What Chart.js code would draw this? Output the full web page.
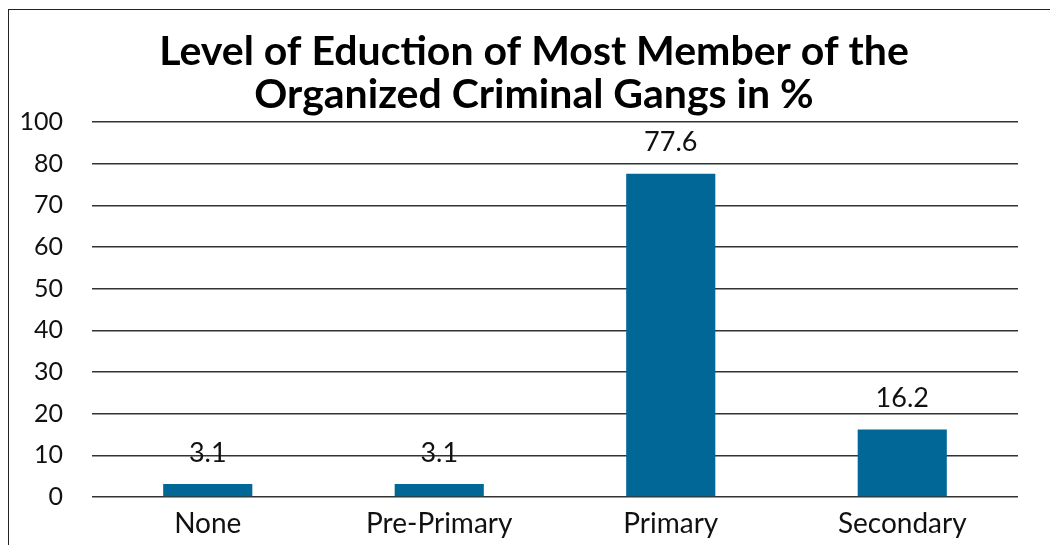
<!DOCTYPE html>
<html>
<head>
<meta charset="utf-8">
<script src="https://cdn.jsdelivr.net/npm/chart.js@4"></script>
<style>
  html, body { margin: 0; padding: 0; background: #fff; }
  #wrap { position: relative; width: 1050px; height: 545px; overflow: hidden; }
  #frame { position: absolute; left: 8px; top: 9px; right: -10px; bottom: -10px;
           border-left: 1.5px solid #222; border-top: 1.5px solid #222; }
  canvas { position: absolute; left: 0; top: 0; }
</style>
</head>
<body>
<div id="wrap">
  <div id="frame"></div>
  <canvas id="chart" width="1050" height="545"></canvas>
</div>
<script>
const categories = ['None', 'Pre-Primary', 'Primary', 'Secondary'];
const shares = [3.1, 3.1, 77.6, 16.2];
// the original axis jumps from 80 straight to "100" on the top line
const yTickLabels = ['0', '10', '20', '30', '40', '50', '60', '70', '80', '100'];

const FONT = 'Lato, "Open Sans", sans-serif';
const BAR_COLOR = '#006796';

// value labels sitting above each bar
const barValues = {
  id: 'barValues',
  afterDatasetsDraw(chart) {
    const ctx = chart.ctx;
    const meta = chart.getDatasetMeta(0);
    ctx.save();
    ctx.font = '27px ' + FONT;
    ctx.fillStyle = '#111';
    ctx.textAlign = 'center';
    ctx.textBaseline = 'middle';
    meta.data.forEach((bar, i) => {
      ctx.fillText(String(shares[i]), bar.x, bar.y - 31);
    });
    ctx.restore();
  },
};

// title in the original sits a bit right of the canvas centre
const nudgeTitle = {
  id: 'nudgeTitle',
  afterLayout(chart) {
    if (chart.titleBlock) chart.titleBlock.left += 50;
  },
};

new Chart(document.getElementById('chart'), {
  type: 'bar',
  data: {
    labels: categories,
    datasets: [{
      data: shares,
      backgroundColor: BAR_COLOR,
      categoryPercentage: 1,
      barPercentage: 0.385,
    }],
  },
  options: {
    responsive: false,
    animation: false,
    layout: { padding: { left: 0, right: 32, top: 0, bottom: 0 } },
    scales: {
      x: {
        afterFit: scale => { scale.height = 48; },
        grid: { display: false, drawTicks: false },
        border: { display: false },
        ticks: { color: '#111', font: { family: FONT, size: 28 }, padding: 10 },
      },
      y: {
        min: 0,
        max: 90,
        afterFit: scale => { scale.width = 92; },
        grid: { color: '#333', lineWidth: 1.5, drawTicks: false },
        border: { display: false },
        ticks: {
          stepSize: 10,
          padding: 29,
          color: '#111',
          font: { family: FONT, size: 25 },
          callback: (v, i) => yTickLabels[i],
        },
      },
    },
    plugins: {
      legend: { display: false },
      tooltip: { enabled: false },
      title: {
        display: true,
        text: ['Level of Eduction of Most Member of the', 'Organized Criminal Gangs in %'],
        color: '#000',
        font: { family: FONT, size: 41, weight: 'bold', lineHeight: 1.05 },
        padding: { top: 30, bottom: 6 },
      },
    },
  },
  plugins: [barValues, nudgeTitle],
});
</script>
</body>
</html>
